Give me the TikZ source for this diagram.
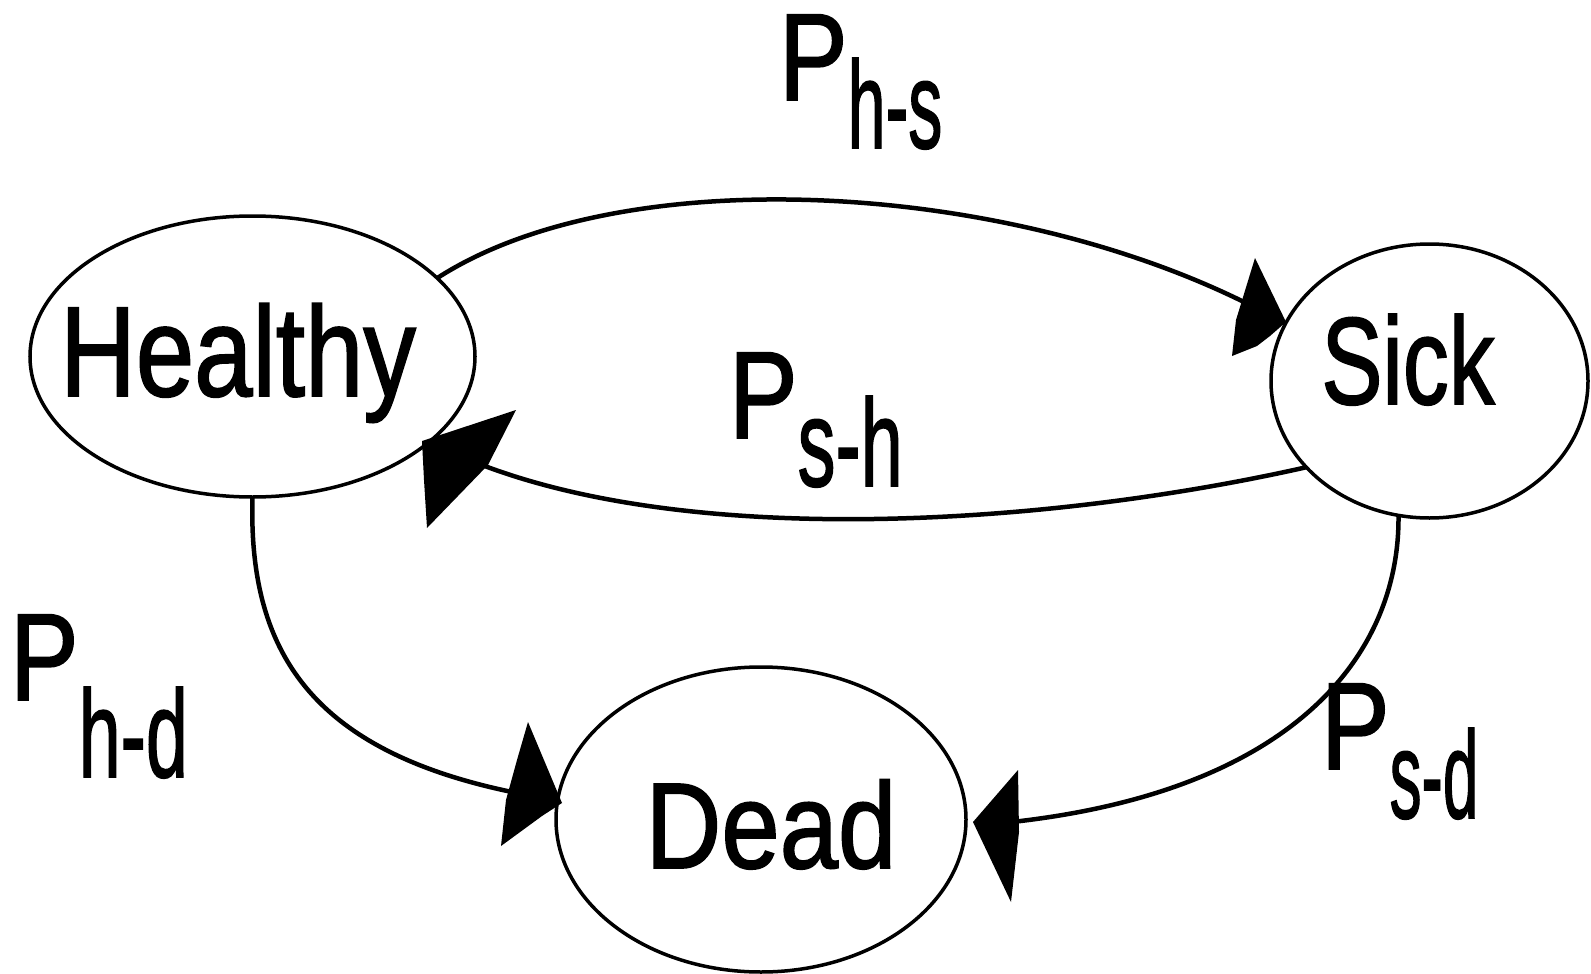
\documentclass[tikz,border=0pt]{standalone}
\usepackage{graphicx}
\usepackage{fontspec}
\setmainfont[FakeBold=1.5]{Liberation Sans}
\usetikzlibrary{shapes.geometric}
\begin{document}
\begin{tikzpicture}[x=1pt,y=-1pt,
  stateell/.style={ellipse, draw, line width=3.5pt, inner sep=0pt, outer sep=0pt},
  conn/.style={line width=4.5pt},
  headfill/.style={fill=black},
  bigtext/.style={inner sep=0pt, outer sep=0pt, anchor=base},
  plabel/.style={inner sep=0pt, outer sep=0pt, anchor=base west, font=\fontsize{124pt}{124pt}\selectfont}]
\useasboundingbox (0,0) rectangle (1591,974);

% states
\node[stateell, minimum width=445pt, minimum height=281pt] (healthy) at (252.5,356.5) {};
\node[stateell, minimum width=317pt, minimum height=274pt] (sick) at (1429.5,381) {};
\node[stateell, minimum width=410pt, minimum height=305pt] (dead) at (761,819.5) {};

\node[bigtext, font=\fontsize{128pt}{128pt}\selectfont] (htext) at (238,396) {\scalebox{0.82}[1]{Healthy}};
\node[bigtext, font=\fontsize{124pt}{124pt}\selectfont] (stext) at (1408,404) {\scalebox{0.74}[1]{Sick}};
\node[bigtext, font=\fontsize{122pt}{122pt}\selectfont] (dtext) at (771,868) {\scalebox{0.86}[1]{Dead}};

% free ends of connectors
\coordinate (hsend) at (1248,304);
\coordinate (shend) at (482,465);
\coordinate (hdend) at (512,792);
\coordinate (sdend) at (1012,822);

% connectors
\draw[conn] (healthy.23) .. controls (620,160) and (1000,180) .. (hsend);
\draw[conn] (sick.215) .. controls (1050,525) and (700,548) .. (shend);
\draw[conn] (healthy.south) .. controls (248,650) and (310,750) .. (hdend);
\draw[conn] (sick.257) .. controls (1400,650) and (1300,790) .. (sdend);

% arrowheads
\fill[headfill] (1255,258) -- (1286,322) -- (1270,336) -- (1257,346) -- (1232,356) -- (1236,320) -- cycle;
\fill[headfill] (422,441) -- (516,410) -- (488,465) -- (427,528) -- (424,480) -- cycle;
\fill[headfill] (528,722) -- (562,803) -- (542,816) -- (501,846) -- (506,800) -- (517,760) -- cycle;
\fill[headfill] (1018,770) -- (1019,832) -- (1011,902) -- (973,822) -- cycle;

% labels
\node[plabel] (phs) at (779,100) {\scalebox{0.83}[1]{P}\raisebox{-48pt}{\scalebox{0.55}[1]{h-s}}};
\node[plabel] (psh) at (729,438) {\scalebox{0.83}[1]{P}\raisebox{-48pt}{\scalebox{0.61}[1]{s-h}}};
\node[plabel] (phd) at (10,700) {\scalebox{0.83}[1]{P}\raisebox{-77pt}{\scalebox{0.61}[1]{h-d}}};
\node[plabel] (psd) at (1321,769) {\scalebox{0.83}[1]{P}\raisebox{-49pt}{\scalebox{0.515}[1]{s-d}}};
\end{tikzpicture}
\end{document}
